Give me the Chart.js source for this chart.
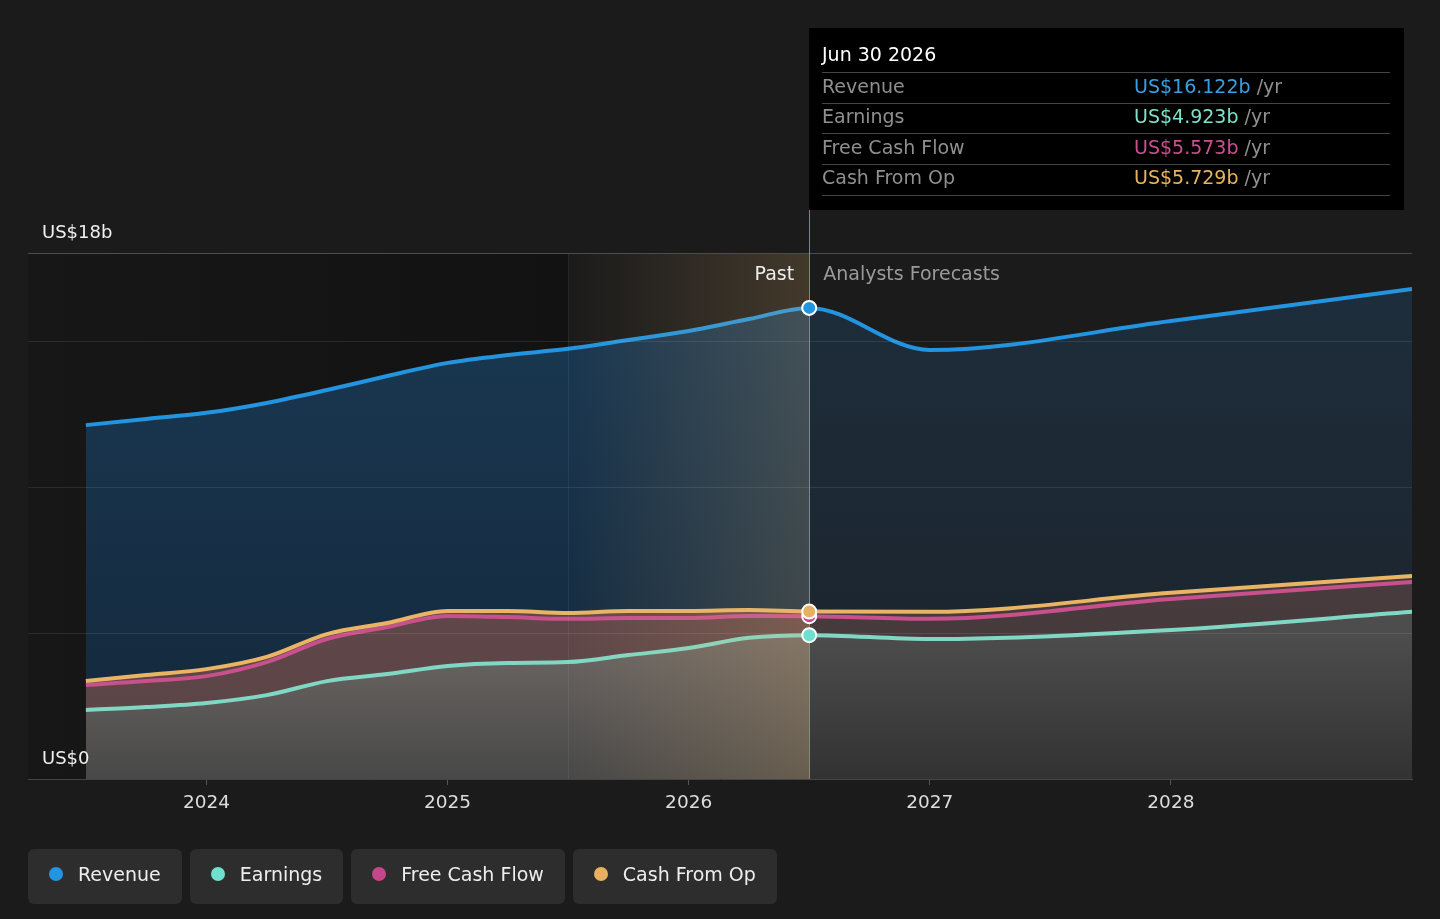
<!DOCTYPE html>
<html lang="en">
  <head>
    <meta charset="UTF-8" />
    <title>Revenue, Earnings and Cash Flow</title>
    <script src="https://cdn.jsdelivr.net/npm/chart.js"></script>
    <style>
      html, body { margin: 0; padding: 0; background: #1b1b1b; }
      body { width: 1440px; height: 919px; position: relative; overflow: hidden;
             font-family: "DejaVu Sans", sans-serif; }
      #chart { position: absolute; left: 0; top: 0; }
      .legend { position: absolute; left: 28px; top: 849px; display: flex; gap: 8px; }
      .legend div { height: 55px; box-sizing: border-box; padding: 0 21px 5px 21px;
                    background: #2d2d2d; border-radius: 6px; display: flex; align-items: center;
                    color: #eeeeee; font-size: 19px; }
      .legend span { width: 14px; height: 14px; border-radius: 50%; margin-right: 15px; display: inline-block; }
    </style>
  </head>
  <body>
    <canvas id="chart" width="1440" height="919"></canvas>
    <div class="legend">
      <div><span style="background:#2394df"></span>Revenue</div>
      <div><span style="background:#6fe0d0"></span>Earnings</div>
      <div><span style="background:#c5468a"></span>Free Cash Flow</div>
      <div><span style="background:#e8b060"></span>Cash From Op</div>
    </div>

    <script>
      // decimal years, quarterly history up to Jun 30 2026 then yearly forecasts
      const dates = [2023.5, 2023.75, 2024.0, 2024.25, 2024.5, 2024.75, 2025.0, 2025.25,
                     2025.5, 2025.75, 2026.0, 2026.25, 2026.5, 2027.0, 2028.0, 2029.0];
      const revenue = [12.11, 12.32, 12.53, 12.87, 13.31, 13.79, 14.24, 14.51,
                       14.72, 15.02, 15.33, 15.74, 16.122, 14.68, 15.67, 16.77];
      const earnings = [2.36, 2.46, 2.60, 2.87, 3.35, 3.59, 3.87, 3.97,
                        4.00, 4.24, 4.48, 4.83, 4.923, 4.79, 5.10, 5.72];
      const freeCashFlow = [3.22, 3.35, 3.52, 4.00, 4.79, 5.20, 5.58, 5.54,
                            5.48, 5.51, 5.51, 5.58, 5.573, 5.48, 6.16, 6.74];
      const cashFromOp = [3.35, 3.56, 3.76, 4.18, 4.96, 5.34, 5.75, 5.75,
                          5.68, 5.75, 5.75, 5.78, 5.729, 5.72, 6.37, 6.95];

      const yearTicks = [2024, 2025, 2026, 2027, 2028];
      const gridValues = [5, 10, 15, 18];
      const pastStart = 2025.5;
      const nowDate = 2026.5;
      const tipTitle = 'Jun 30 2026';
      const tipRows = [
        ['Revenue', 'US$16.122b', '#3a9fe0'],
        ['Earnings', 'US$4.923b', '#7ee2cc'],
        ['Free Cash Flow', 'US$5.573b', '#cc4f8f'],
        ['Cash From Op', 'US$5.729b', '#e8b462']
      ];

      const FONT = '"DejaVu Sans", sans-serif';

      function pts(values) {
        return values.map((v, i) => ({ x: dates[i], y: v }));
      }

      // one cached gradient per dataset and side, so segments stay merged
      const gradCache = {};
      function segFill(key, past, future) {
        return ctx => {
          const chart = ctx.chart;
          const area = chart.chartArea;
          const isFuture = ctx.p0.parsed.x >= nowDate;
          const spec = isFuture ? future : past;
          if (!area) return spec[0];
          const k = key + (isFuture ? 'f' : 'p') + area.bottom;
          if (!gradCache[k]) {
            const top = chart.scales.y.getPixelForValue(spec[2]);
            const g = chart.ctx.createLinearGradient(0, top, 0, area.bottom);
            g.addColorStop(0, spec[0]);
            g.addColorStop(1, spec[1]);
            gradCache[k] = g;
          }
          return gradCache[k];
        };
      }

      function series(label, values, color, fill, order, past, future) {
        return {
          label: label,
          data: pts(values),
          borderColor: color,
          borderWidth: 4,
          pointRadius: 0,
          cubicInterpolationMode: 'monotone',
          fill: fill,
          order: order,
          backgroundColor: past[0],
          segment: { backgroundColor: segFill(label, past, future) }
        };
      }

      const overlay = {
        id: 'overlay',
        beforeDraw(chart) {
          const { ctx, chartArea: a, scales: { x } } = chart;
          const xs = x.getPixelForValue(pastStart);
          const g = ctx.createLinearGradient(a.left, 0, xs, 0);
          g.addColorStop(0, '#171717');
          g.addColorStop(1, '#121212');
          ctx.save();
          ctx.fillStyle = g;
          ctx.fillRect(a.left, a.top, xs - a.left, a.bottom - a.top);
          ctx.restore();
        },
        afterDatasetsDraw(chart) {
          const { ctx, chartArea: a, scales: { x, y } } = chart;
          const xs = x.getPixelForValue(pastStart);
          const xn = x.getPixelForValue(nowDate);
          ctx.save();

          // highlighted last year of history
          const band = ctx.createLinearGradient(xs, 0, xn, 0);
          band.addColorStop(0, 'rgba(230,180,110,0.0)');
          band.addColorStop(1, 'rgba(230,180,110,0.2)');
          ctx.fillStyle = band;
          ctx.fillRect(xs, a.top, xn - xs, a.bottom - a.top);
          ctx.fillStyle = 'rgba(255,255,255,0.07)';
          ctx.fillRect(xs, a.top, 1, a.bottom - a.top);

          // horizontal grid
          gridValues.forEach(v => {
            const py = Math.round(y.getPixelForValue(v)) + 0.5;
            ctx.strokeStyle = v === 18 ? '#4d4d4d' : 'rgba(255,255,255,0.09)';
            ctx.lineWidth = 1;
            ctx.beginPath();
            ctx.moveTo(a.left, py);
            ctx.lineTo(a.right, py);
            ctx.stroke();
          });

          // divider at today
          ctx.strokeStyle = 'rgba(196,152,80,0.8)';
          ctx.lineWidth = 1;
          ctx.beginPath();
          ctx.moveTo(Math.round(xn) + 0.5, 210);
          ctx.lineTo(Math.round(xn) + 0.5, a.bottom);
          ctx.stroke();

          // markers
          const idx = dates.indexOf(nowDate);
          [[earnings, '#6fe0d0'], [freeCashFlow, '#c5468a'], [cashFromOp, '#e8b060'], [revenue, '#2394df']]
            .forEach(([vals, col]) => {
              ctx.beginPath();
              ctx.arc(xn, y.getPixelForValue(vals[idx]), 7, 0, Math.PI * 2);
              ctx.fillStyle = col;
              ctx.fill();
              ctx.lineWidth = 2;
              ctx.strokeStyle = '#ffffff';
              ctx.stroke();
            });

          // labels
          ctx.font = '19px ' + FONT;
          ctx.textBaseline = 'middle';
          ctx.textAlign = 'right';
          ctx.fillStyle = '#eeeeee';
          ctx.fillText('Past', xn - 15, 275);
          ctx.textAlign = 'left';
          ctx.fillStyle = '#9a9a9a';
          ctx.fillText('Analysts Forecasts', xn + 14, 275);

          ctx.font = '18px ' + FONT;
          ctx.fillStyle = '#f0f0f0';
          ctx.fillText('US$18b', 42, y.getPixelForValue(18) - 20);
          ctx.fillText('US$0', 42, y.getPixelForValue(0) - 20);

          // tooltip box
          ctx.fillStyle = '#000000';
          ctx.fillRect(xn, 28, 1404 - xn, 182);
          ctx.fillStyle = '#ffffff';
          ctx.font = '19px ' + FONT;
          ctx.fillText(tipTitle, 822, 56);
          ctx.strokeStyle = '#454545';
          ctx.lineWidth = 1;
          [72.5, 103.5, 133.5, 164.5, 195.5].forEach(ly => {
            ctx.beginPath();
            ctx.moveTo(822, ly);
            ctx.lineTo(1390, ly);
            ctx.stroke();
          });
          ctx.font = '19px ' + FONT;
          tipRows.forEach((r, i) => {
            const ry = 88 + i * 30.5;
            ctx.fillStyle = '#8f8f8f';
            ctx.fillText(r[0], 822, ry);
            ctx.fillStyle = r[2];
            ctx.fillText(r[1], 1134, ry);
            const w = ctx.measureText(r[1] + ' ').width;
            ctx.fillStyle = '#8f8f8f';
            ctx.fillText('/yr', 1134 + w, ry);
          });
          ctx.restore();
        }
      };

      new Chart(document.getElementById('chart'), {
        type: 'line',
        data: {
          datasets: [
            series('Revenue', revenue, '#2394df', 'origin', 4,
                   ['#1a3852', '#13273a', 16], ['#1e2d3b', '#1a2229', 16]),
            series('Earnings', earnings, '#80d8c4', 'origin', 3,
                   ['#716b68', '#484848', 5.5], ['#4d4d4d', '#323232', 5]),
            series('Free Cash Flow', freeCashFlow, '#c8508c', 1, 2,
                   ['#604749', '#5a4446', 6], ['#483b3e', '#443739', 6.5]),
            series('Cash From Op', cashFromOp, '#e9b464', 2, 1,
                   ['#604749', '#5a4446', 6], ['#483b3e', '#443739', 6.5])
          ]
        },
        options: {
          responsive: false,
          animation: false,
          layout: { padding: { left: 28, right: 28, top: 253, bottom: 0 } },
          plugins: {
            legend: { display: false },
            tooltip: { enabled: false },
            filler: { drawTime: 'beforeDatasetsDraw' }
          },
          scales: {
            x: {
              type: 'linear',
              min: 2023.26,
              max: 2029.0,
              afterBuildTicks: s => { s.ticks = yearTicks.map(v => ({ value: v })); },
              afterFit: s => { s.height = 140; },
              grid: { drawOnChartArea: false, drawTicks: true, tickLength: 6, color: '#555555' },
              border: { color: '#454545' },
              ticks: {
                color: '#dddddd',
                font: { family: FONT, size: 18.5 },
                padding: 7,
                maxRotation: 0,
                callback: v => String(v)
              }
            },
            y: { display: false, min: 0, max: 18 }
          }
        },
        plugins: [overlay]
      });
    </script>
  </body>
</html>
